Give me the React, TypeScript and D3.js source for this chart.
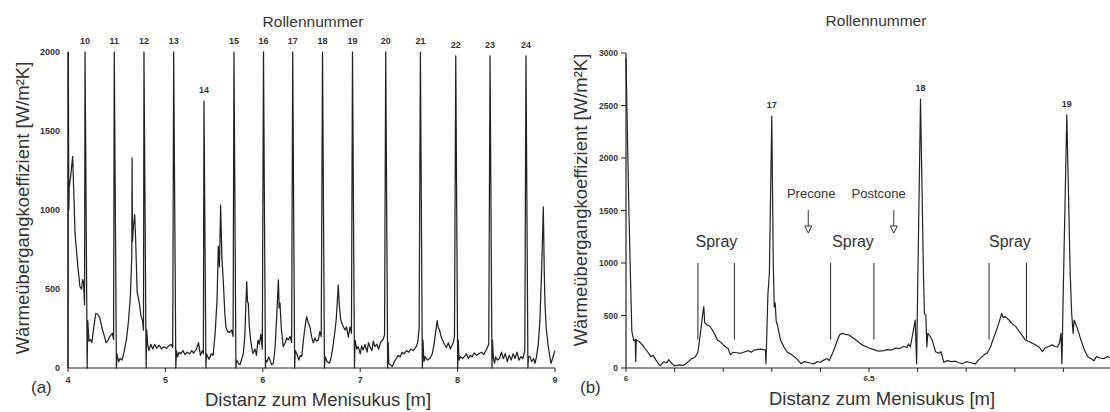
import React from 'react';
import * as d3 from 'd3';

// ---- data, panel (a): 4 .. 9 m ----
const rollLabelsA = ['10', '11', '12', '13', '14', '15', '16', '17', '18', '19', '20', '21', '22', '23', '24'];
const rollXA = [4.175, 4.475, 4.78, 5.085, 5.396, 5.704, 6.007, 6.307, 6.613, 6.921, 7.262, 7.618, 7.981, 8.333, 8.702];
const rollPeakA = [2000, 2000, 2000, 2000, 1690, 2000, 2000, 2000, 2000, 2000, 2000, 2000, 1975, 1975, 1975];
const xTicksA = [4, 5, 6, 7, 8, 9];
const yTicksA = [0, 500, 1000, 1500, 2000];

const seriesA: [number, number][] = [
  [4.0, 0], [4.003, 2000], [4.008, 1000], [4.013, 1150], [4.025, 1200], [4.048, 1340], [4.06, 1100],
  [4.072, 855], [4.1, 650], [4.123, 513], [4.14, 500], [4.15, 560], [4.16, 540], [4.17, 400],
  [4.175, 2000], [4.197, 0], [4.203, 300], [4.215, 170], [4.23, 180], [4.245, 160],
  [4.265, 260], [4.285, 345], [4.305, 340], [4.325, 320], [4.35, 250], [4.37, 210], [4.39, 160],
  [4.41, 175], [4.43, 200], [4.455, 220], [4.468, 180],
  [4.475, 2000], [4.497, 0], [4.503, 90], [4.52, 40], [4.535, 60], [4.555, 50], [4.575, 100],
  [4.6, 180], [4.62, 290], [4.64, 450], [4.655, 700], [4.658, 1330], [4.662, 800], [4.672, 900],
  [4.685, 970], [4.695, 800], [4.71, 480], [4.73, 420], [4.75, 330], [4.765, 300], [4.775, 240],
  [4.78, 2000], [4.802, 0], [4.808, 240], [4.818, 150], [4.83, 110], [4.85, 150], [4.87, 120], [4.89, 150],
  [4.91, 125], [4.935, 145], [4.96, 120], [4.985, 135], [5.01, 125], [5.035, 140], [5.06, 150], [5.075, 130],
  [5.085, 2000], [5.107, 0], [5.113, 110], [5.125, 70], [5.14, 100], [5.16, 90], [5.18, 110], [5.2, 85],
  [5.225, 100], [5.25, 90], [5.27, 110], [5.29, 95], [5.32, 120], [5.34, 160], [5.36, 80], [5.38, 110], [5.39, 90],
  [5.396, 1690], [5.416, 0], [5.422, 90], [5.435, 70], [5.45, 55], [5.47, 90], [5.49, 80], [5.51, 215],
  [5.53, 425], [5.543, 770], [5.555, 640], [5.567, 1030], [5.58, 700], [5.595, 540], [5.61, 350],
  [5.622, 258], [5.64, 230], [5.66, 225], [5.68, 240], [5.695, 200],
  [5.704, 2000], [5.724, 0], [5.73, 50], [5.75, 30], [5.766, 20], [5.785, 60], [5.8, 90],
  [5.815, 200], [5.825, 380], [5.835, 546], [5.843, 420], [5.851, 410], [5.862, 260], [5.875, 177],
  [5.89, 120], [5.9, 92], [5.92, 120], [5.935, 80], [5.95, 177], [5.965, 150], [5.98, 215], [5.995, 120],
  [6.007, 2000], [6.027, 0], [6.033, 50], [6.045, 40], [6.06, 70], [6.074, 50], [6.09, 20], [6.108, 30],
  [6.125, 120], [6.143, 325], [6.16, 557], [6.168, 380], [6.177, 410], [6.19, 250], [6.21, 135],
  [6.23, 160], [6.245, 190], [6.262, 177], [6.28, 200], [6.296, 160],
  [6.307, 2000], [6.327, 0], [6.333, 110], [6.348, 92], [6.37, 50], [6.385, 80], [6.4, 72],
  [6.418, 180], [6.433, 258], [6.45, 325], [6.465, 290], [6.485, 258], [6.5, 200], [6.518, 160],
  [6.535, 190], [6.55, 170], [6.57, 177], [6.585, 230], [6.6, 200],
  [6.613, 2000], [6.633, 0], [6.64, 72], [6.66, 40], [6.684, 30], [6.7, 60], [6.72, 135],
  [6.738, 220], [6.753, 304], [6.765, 420], [6.775, 525], [6.785, 400], [6.8, 304], [6.82, 270],
  [6.844, 240], [6.86, 260], [6.878, 196], [6.895, 260], [6.91, 220],
  [6.921, 2000], [6.941, 0], [6.947, 177], [6.965, 120], [6.98, 135], [7.0, 90], [7.015, 140],
  [7.03, 114], [7.05, 150], [7.07, 100], [7.085, 160], [7.1, 135], [7.12, 110], [7.135, 170], [7.15, 135],
  [7.17, 150], [7.19, 120], [7.21, 165], [7.235, 180], [7.25, 210],
  [7.262, 2000], [7.282, 0], [7.288, 160], [7.293, 30], [7.31, 20], [7.33, 10],
  [7.35, 40], [7.37, 60], [7.39, 80], [7.41, 70], [7.43, 100], [7.45, 90], [7.475, 110], [7.5, 100],
  [7.52, 120], [7.545, 110], [7.57, 130], [7.59, 160], [7.605, 250],
  [7.618, 2000], [7.638, 0], [7.644, 177], [7.655, 40], [7.665, 72], [7.69, 50], [7.715, 60], [7.74, 90],
  [7.76, 156], [7.775, 230], [7.79, 300], [7.8, 260], [7.815, 240], [7.83, 200], [7.845, 177], [7.865, 150],
  [7.885, 130], [7.905, 160], [7.925, 120], [7.94, 140], [7.955, 160], [7.968, 200],
  [7.981, 1975], [8.001, 0], [8.007, 177], [8.015, 50], [8.03, 72], [8.05, 60], [8.07, 72], [8.09, 90],
  [8.11, 60], [8.13, 80], [8.15, 70], [8.17, 95], [8.195, 80], [8.22, 92], [8.245, 100], [8.27, 85],
  [8.295, 115], [8.32, 150],
  [8.333, 1975], [8.353, 0], [8.358, 177], [8.368, 60], [8.38, 30], [8.39, 70], [8.41, 50], [8.43, 60],
  [8.45, 100], [8.47, 60], [8.49, 92], [8.51, 40], [8.53, 80], [8.55, 50], [8.57, 90], [8.59, 60],
  [8.61, 100], [8.63, 50], [8.65, 72], [8.67, 60], [8.69, 110],
  [8.702, 1975], [8.722, 0], [8.728, 72], [8.743, 72], [8.76, 40], [8.78, 60], [8.795, 30],
  [8.81, 70], [8.828, 150], [8.845, 300], [8.863, 622], [8.88, 1020], [8.89, 600], [8.897, 410],
  [8.91, 250], [8.931, 135], [8.945, 80], [8.959, 30], [8.975, 60], [8.99, 92], [9.0, 110],
];

// ---- data, panel (b): 6 .. 7 m ----
const rollLabelsB = ['17', '18', '19'];
const rollXB = [6.3, 6.606, 6.907];
const rollPeakB = [2400, 2560, 2410];
const xTicksB = [6, 6.1, 6.2, 6.3, 6.4, 6.5, 6.6, 6.7, 6.8, 6.9, 7];
const xTickLabelsB = [6, 6.5];
const yTicksB = [0, 500, 1000, 1500, 2000, 2500, 3000];
const sprayX = [6.148, 6.223, 6.421, 6.51, 6.747, 6.824];
const sprayRange = [270, 1000];
const sprayLabelX = [6.186, 6.467, 6.79];
const coneLabels = ['Precone', 'Postcone'];
const coneLabelX = [6.381, 6.52];
const coneArrowX = [6.375, 6.551];

const seriesB: [number, number][] = [
  [6.0, 2950], [6.003, 2200], [6.006, 1500], [6.009, 900], [6.012, 350], [6.016, 260], [6.019, 270],
  [6.02, 60], [6.021, 270], [6.03, 240], [6.037, 200], [6.045, 150], [6.051, 108], [6.056, 120],
  [6.061, 80], [6.07, 20], [6.078, 60], [6.084, 50], [6.088, 80], [6.095, 40], [6.1, 20], [6.11, 30],
  [6.118, 25], [6.123, 40], [6.133, 80], [6.14, 100], [6.143, 108], [6.148, 150], [6.154, 362],
  [6.158, 520], [6.16, 584], [6.162, 430], [6.167, 410], [6.172, 400], [6.178, 360], [6.183, 320],
  [6.188, 266], [6.195, 245], [6.2, 220], [6.205, 200], [6.21, 185], [6.215, 125], [6.22, 150],
  [6.228, 145], [6.236, 140], [6.245, 155], [6.253, 165], [6.258, 150], [6.263, 170], [6.27, 175],
  [6.277, 180], [6.283, 175], [6.287, 170], [6.288, 40], [6.292, 700], [6.295, 900], [6.3, 2400],
  [6.303, 1000], [6.305, 580], [6.307, 620], [6.309, 450], [6.312, 400], [6.318, 266], [6.325, 200],
  [6.332, 150], [6.34, 130], [6.346, 108], [6.353, 80], [6.36, 40], [6.367, 60], [6.373, 55], [6.38, 45],
  [6.387, 40], [6.393, 60], [6.4, 55], [6.407, 75], [6.414, 90], [6.418, 70], [6.424, 130], [6.43, 200],
  [6.435, 266], [6.44, 320], [6.445, 330], [6.452, 320], [6.459, 315], [6.466, 290], [6.473, 266],
  [6.48, 240], [6.486, 220], [6.493, 205], [6.5, 190], [6.51, 175], [6.52, 160], [6.53, 165],
  [6.538, 175], [6.546, 170], [6.555, 190], [6.563, 185], [6.572, 205], [6.578, 195], [6.581, 230],
  [6.585, 200], [6.589, 300], [6.595, 457], [6.598, 40], [6.6, 700], [6.606, 2560], [6.612, 900],
  [6.614, 520], [6.617, 500], [6.619, 200], [6.621, 330], [6.626, 300], [6.63, 266], [6.637, 155],
  [6.644, 140], [6.648, 155], [6.654, 55], [6.661, 70], [6.67, 60], [6.678, 65], [6.685, 50],
  [6.692, 40], [6.7, 60], [6.706, 55], [6.713, 45], [6.719, 40], [6.726, 80], [6.733, 108], [6.738, 130],
  [6.743, 140], [6.75, 200], [6.755, 270], [6.76, 330], [6.767, 425], [6.773, 520], [6.776, 480],
  [6.78, 490], [6.788, 457], [6.795, 420], [6.802, 394], [6.812, 330], [6.822, 266], [6.83, 250],
  [6.836, 235], [6.843, 220], [6.85, 200], [6.857, 155], [6.862, 190], [6.867, 200], [6.872, 210],
  [6.877, 220], [6.883, 205], [6.888, 200], [6.892, 240], [6.895, 330], [6.897, 40], [6.9, 800],
  [6.907, 2410], [6.914, 900], [6.917, 520], [6.92, 330], [6.922, 457], [6.927, 400], [6.932, 330],
  [6.936, 266], [6.943, 175], [6.95, 108], [6.956, 90], [6.963, 70], [6.968, 108], [6.975, 95],
  [6.984, 90], [6.99, 108], [6.995, 100],
];

const FONT = '"Liberation Sans", Arial, sans-serif';
const INK = '#222';
const TEXT = '#333';

export default function App() {
  const xA = d3.scaleLinear().domain([4, 9]).range([68, 555]);
  const yA = d3.scaleLinear().domain([0, 2000]).range([368, 52]);
  const xB = d3.scaleLinear().domain([6, 7]).range([626, 1112]);
  const yB = d3.scaleLinear().domain([0, 3000]).range([368, 53]);

  const lineA = d3.line<[number, number]>().x((d) => xA(d[0])).y((d) => yA(d[1]));
  const lineB = d3.line<[number, number]>().x((d) => xB(d[0])).y((d) => yB(d[1]));

  const tick = { fontFamily: FONT, fontSize: 9, fontWeight: 700, fill: TEXT };
  const big = { fontFamily: FONT, fontSize: 18.5, fill: TEXT };

  return (
    <svg width={1110} height={412} style={{ position: 'absolute', left: 0, top: 0, background: '#fff' }}>
      {/* ---------- panel (a) ---------- */}
      <g>
        <line x1={xA(4)} x2={xA(9)} y1={yA(0)} y2={yA(0)} stroke={INK} strokeWidth={1.2} />
        <line x1={xA(4)} x2={xA(4)} y1={yA(0)} y2={yA(2000)} stroke={INK} strokeWidth={1.2} />
        {xTicksA.map((t) => (
          <g key={t}>
            <line x1={xA(t)} x2={xA(t)} y1={yA(0)} y2={yA(0) + 4} stroke={INK} />
            <text x={xA(t)} y={383} textAnchor="middle" {...tick}>{t}</text>
          </g>
        ))}
        {yTicksA.map((t) => (
          <text key={t} x={60} y={yA(t) + 3} textAnchor="end" {...tick}>{t}</text>
        ))}
        <path d={lineA(seriesA) || ''} fill="none" stroke={INK} strokeWidth={1.25} strokeLinejoin="round" />
        {rollLabelsA.map((r, i) => (
          <text key={r} x={xA(rollXA[i])} y={yA(rollPeakA[i]) - 8} textAnchor="middle" {...tick}>{r}</text>
        ))}
        <text x={313} y={27} textAnchor="middle" fontFamily={FONT} fontSize={15.5} fill={TEXT}>Rollennummer</text>
        <text transform="translate(29,208) rotate(-90)" textAnchor="middle" {...big}>Wärmeübergangkoeffizient [W/m²K]</text>
        <text x={318} y={406} textAnchor="middle" {...big}>Distanz zum Menisukus [m]</text>
        <text x={31} y={393} fontFamily={FONT} fontSize={17} fill={TEXT}>(a)</text>
      </g>

      {/* ---------- panel (b) ---------- */}
      <g>
        <line x1={xB(6)} x2={1110} y1={yB(0)} y2={yB(0)} stroke={INK} strokeWidth={1.2} />
        <line x1={xB(6)} x2={xB(6)} y1={yB(0)} y2={yB(3000)} stroke={INK} strokeWidth={1.2} />
        {xTicksB.map((t) => (
          <line key={t} x1={xB(t)} x2={xB(t)} y1={yB(0)} y2={yB(0) + 4} stroke={INK} />
        ))}
        {xTickLabelsB.map((t) => (
          <text key={t} x={xB(t)} y={381} textAnchor="middle" {...tick} fontSize={8}>{t}</text>
        ))}
        {yTicksB.map((t) => (
          <g key={t}>
            <line x1={xB(6) - 5} x2={xB(6)} y1={yB(t)} y2={yB(t)} stroke={INK} />
            <text x={618} y={yB(t) + 3} textAnchor="end" {...tick} fontSize={8.5}>{t}</text>
          </g>
        ))}
        <path d={lineB(seriesB) || ''} fill="none" stroke={INK} strokeWidth={1.2} strokeLinejoin="round" />
        {rollLabelsB.map((r, i) => (
          <text key={r} x={xB(rollXB[i])} y={yB(rollPeakB[i]) - 8} textAnchor="middle" {...tick}>{r}</text>
        ))}
        {sprayX.map((s) => (
          <line key={s} x1={xB(s)} x2={xB(s)} y1={yB(sprayRange[0])} y2={yB(sprayRange[1])} stroke={INK} strokeWidth={1} />
        ))}
        {sprayLabelX.map((s) => (
          <text key={s} x={xB(s)} y={247} textAnchor="middle" fontFamily={FONT} fontSize={16} fill={TEXT}>Spray</text>
        ))}
        {coneLabels.map((c, i) => (
          <g key={c}>
            <text x={xB(coneLabelX[i])} y={198} textAnchor="middle" fontFamily={FONT} fontSize={13} fill={TEXT}>{c}</text>
            <line x1={xB(coneArrowX[i])} x2={xB(coneArrowX[i])} y1={210} y2={226} stroke={INK} strokeWidth={0.9} />
            <path
              d={`M${xB(coneArrowX[i]) - 3.5},226 L${xB(coneArrowX[i]) + 3.5},226 L${xB(coneArrowX[i])},233 Z`}
              fill="#fff" stroke={INK} strokeWidth={0.9}
            />
          </g>
        ))}
        <text x={876} y={26} textAnchor="middle" fontFamily={FONT} fontSize={15.5} fill={TEXT}>Rollennummer</text>
        <text transform="translate(587,200) rotate(-90)" textAnchor="middle" {...big}>Wärmeübergangkoeffizient [W/m²K]</text>
        <text x={882} y={405} textAnchor="middle" {...big}>Distanz zum Menisukus [m]</text>
        <text x={580} y={393} fontFamily={FONT} fontSize={17} fill={TEXT}>(b)</text>
      </g>
    </svg>
  );
}
